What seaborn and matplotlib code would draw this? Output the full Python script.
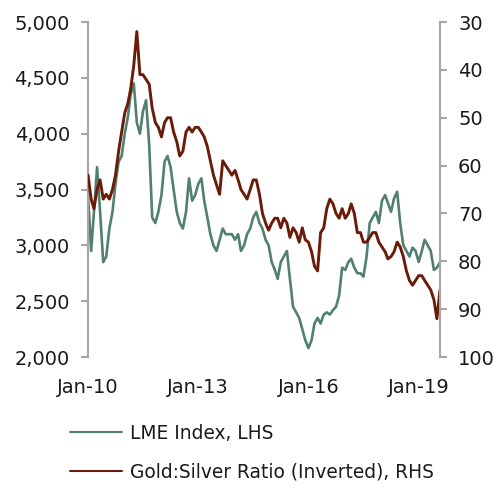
import numpy as np
import pandas as pd
import seaborn as sns
import matplotlib
matplotlib.use("Agg")
import matplotlib.pyplot as plt
import matplotlib.dates as mdates

# ── data (monthly) ────────────────────────────────────────────────────────────
months = pd.date_range("2010-01-01", periods=116, freq="MS")

lme_index = [
    3450, 2950, 3300, 3700, 3300, 2850, 2900, 3150, 3300, 3550, 3750, 3800,
    4000, 4150, 4350, 4450, 4100, 4000, 4200, 4300, 3900, 3250, 3200, 3300,
    3450, 3750, 3800, 3700, 3500, 3300, 3200, 3150, 3300, 3600, 3400, 3450,
    3550, 3600, 3400, 3250, 3100, 3000, 2950, 3050, 3150, 3100, 3100, 3100,
    3050, 3100, 2950, 3000, 3100, 3150, 3250, 3300, 3200, 3150, 3050, 3000,
    2850, 2780, 2700, 2850, 2900, 2950, 2700, 2450, 2400, 2350, 2250, 2150,
    2080, 2150, 2300, 2350, 2300, 2380, 2400, 2380, 2420, 2450, 2550, 2800,
    2780, 2850, 2880, 2800, 2750, 2750, 2720, 2900, 3200, 3250, 3300, 3200,
    3400, 3450, 3380, 3300, 3420, 3480, 3200, 3000, 2950, 2900, 2980, 2950,
    2850, 2950, 3050, 3000, 2950, 2780, 2800, 2850,
]

gold_silver = [
    62, 67, 69, 65, 63, 67, 66, 67, 65, 62, 57, 53,
    49, 47, 44, 39, 32, 41, 41, 42, 43, 48, 51, 52,
    54, 51, 50, 50, 53, 55, 58, 57, 53, 52, 53, 52,
    52, 53, 54, 56, 59, 62, 64, 66, 59, 60, 61, 62,
    61, 63, 65, 66, 67, 65, 63, 63, 66, 70, 72, 73.5,
    72, 71, 71, 73, 71, 72, 75, 73, 74, 76, 73, 75.5,
    76, 78, 81, 82, 74, 73, 69, 67, 68, 70, 71, 69,
    71, 70, 68, 70, 74, 74, 76, 76, 75, 74, 74, 76,
    77, 78, 79.5, 79, 78, 76, 77, 79, 82, 84, 85, 84,
    83, 83, 84, 85, 86, 88, 92, 86,
]

tick_dates = pd.to_datetime(["2010-01-01", "2013-01-01", "2016-01-01", "2019-01-01"])
left_ticks = [2000, 2500, 3000, 3500, 4000, 4500, 5000]
right_ticks = [30, 40, 50, 60, 70, 80, 90, 100]

GREEN = "#52806F"
RED = "#6A1B0A"
GREY = "#A6A6A6"

df = pd.DataFrame({"date": months, "lme": lme_index, "ratio": gold_silver})

# ── plot ──────────────────────────────────────────────────────────────────────
sns.set_style("white")
plt.rcParams["font.family"] = ["DejaVu Sans"]

fig = plt.figure(figsize=(4.99, 4.88), dpi=100)
ax = fig.add_axes([0.1764, 0.2684, 0.7054, 0.6865])
ax2 = ax.twinx()

sns.lineplot(data=df, x="date", y="lme", ax=ax, color=GREEN, linewidth=1.9,
             label="LME Index, LHS", legend=False)
sns.lineplot(data=df, x="date", y="ratio", ax=ax2, color=RED, linewidth=2.1,
             label="Gold:Silver Ratio (Inverted), RHS", legend=False)

ax.set_xlim(months[0], months[-1])
ax.set_ylim(2000, 5000)
ax2.set_ylim(100, 30)

ax.set_yticks(left_ticks)
ax.set_yticklabels([f"{v:,}" for v in left_ticks])
ax2.set_yticks(right_ticks)
ax.set_xticks(tick_dates)
ax.xaxis.set_major_formatter(mdates.DateFormatter("%b-%y"))

for a in (ax, ax2):
    a.set_xlabel("")
    a.set_ylabel("")
    a.spines["top"].set_visible(False)
    a.spines["bottom"].set_visible(False)
ax.spines["right"].set_visible(False)
ax2.spines["left"].set_visible(False)
ax.spines["left"].set_color(GREY)
ax.spines["left"].set_linewidth(1.5)
ax2.spines["right"].set_color(GREY)
ax2.spines["right"].set_linewidth(1.5)

ax.tick_params(axis="y", length=5, width=1.5, color=GREY, pad=8,
               labelsize=14, labelcolor="#1a1a1a")
ax2.tick_params(axis="y", length=5, width=1.5, color=GREY, pad=8,
                labelsize=14, labelcolor="#1a1a1a")
ax.tick_params(axis="x", length=0, pad=15, labelsize=14, labelcolor="#1a1a1a")

h1, l1 = ax.get_legend_handles_labels()
h2, l2 = ax2.get_legend_handles_labels()
leg = fig.legend(h1 + h2, l1 + l2, loc="upper left", bbox_to_anchor=(0.14, 0.132),
                 frameon=False, fontsize=13.4, handlelength=2.8, handletextpad=0.45,
                 labelspacing=1.05, borderpad=0, borderaxespad=0,
                 labelcolor="#1a1a1a")
for line in leg.get_lines():
    line.set_linewidth(1.5)

fig.savefig("out.png", dpi=100)
plt.close(fig)
